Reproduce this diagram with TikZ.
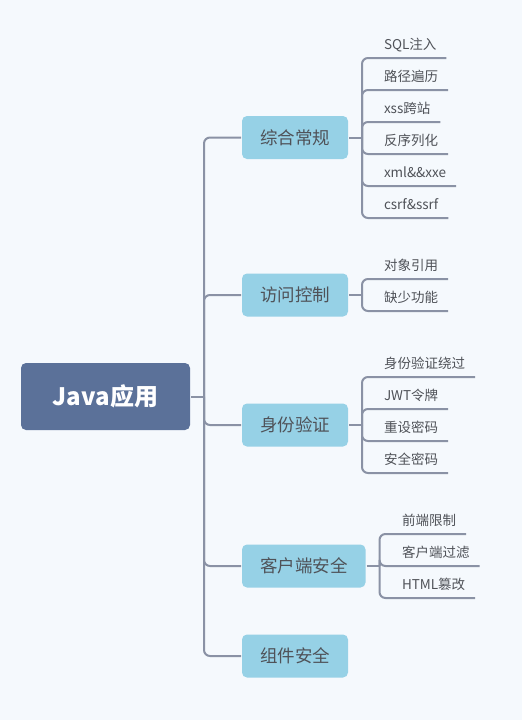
\documentclass[tikz,border=0pt]{standalone}
\usepackage{fontspec}
\setmainfont{Noto Sans CJK SC}
\usetikzlibrary{positioning}
\definecolor{bgpage}{HTML}{F5F9FD}
\definecolor{rootfill}{HTML}{5B7199}
\definecolor{topicfill}{HTML}{96D1E6}
\definecolor{linkgray}{HTML}{8A92A5}
\definecolor{textgray}{HTML}{4F5258}

\begin{document}
\begin{tikzpicture}[x=1pt, y=-1pt, line width=2pt,
  root/.style = {fill=rootfill, rounded corners=5pt, minimum width=169pt, minimum height=67pt, text=white, font=\fontsize{24}{28}\selectfont\bfseries},
  topic/.style = {fill=topicfill, rounded corners=5pt, inner xsep=18pt, minimum height=43pt, text=textgray, font=\fontsize{17.5}{20}\selectfont},
  leaf/.style = {inner xsep=9pt, inner ysep=5pt, text height=10pt, text depth=3pt, text=textgray, font=\fontsize{13.5}{16}\selectfont},
  link/.style = {draw=linkgray, rounded corners=6pt}]
\path[fill=bgpage] (0,0) rectangle (522,720);

% root and topics
\node[root] (java) at (105.5,396.5) {Java应用};
\node[topic, anchor=west] (g1) at (241,137.5) {综合常规};
\node[topic, anchor=west] (g2) at (241,295) {访问控制};
\node[topic, anchor=west] (g3) at (241,425) {身份验证};
\node[topic, anchor=west] (g4) at (241,566) {客户端安全};
\node[topic, anchor=west] (g5) at (241,656) {组件安全};
\coordinate[right=13pt of java.east] (trunk);
\draw[link] (java.east) -- (trunk);
\draw[link] (trunk) |- (g1.west);
\draw[link] (trunk) |- (g2.west);
\draw[link] (trunk) |- (g3.west);
\draw[link] (trunk) |- (g4.west);
\draw[link] (trunk) |- (g5.west);

% 综合常规
\coordinate[right=13pt of g1.east] (b1);
\node[leaf, anchor=south west] (sql) at (374,58) {SQL注入};
\node[leaf, below=32pt of sql.south west, anchor=south west] (path) {路径遍历};
\node[leaf, below=32pt of path.south west, anchor=south west] (xss) {xss跨站};
\node[leaf, below=32pt of xss.south west, anchor=south west] (deser) {反序列化};
\node[leaf, below=32pt of deser.south west, anchor=south west] (xxe) {xml\&\&xxe};
\node[leaf, below=32pt of xxe.south west, anchor=south west] (csrf) {csrf\&ssrf};
\draw[link] (g1.east) -- (b1);
\draw[link] (b1) |- (sql.south east);
\draw[link] (b1) |- (path.south east);
\draw[link] (b1) |- (xss.south east);
\draw[link] (b1) |- (deser.south east);
\draw[link] (b1) |- (xxe.south east);
\draw[link] (b1) |- (csrf.south east);

% 访问控制
\coordinate[right=13pt of g2.east] (b2);
\node[leaf, anchor=south west] (objref) at (374,279) {对象引用};
\node[leaf, below=32pt of objref.south west, anchor=south west] (missfn) {缺少功能};
\draw[link] (g2.east) -- (b2);
\draw[link] (b2) |- (objref.south east);
\draw[link] (b2) |- (missfn.south east);

% 身份验证
\coordinate[right=13pt of g3.east] (b3);
\node[leaf, anchor=south west] (bypass) at (374,377) {身份验证绕过};
\node[leaf, below=32pt of bypass.south west, anchor=south west] (jwt) {JWT令牌};
\node[leaf, below=32pt of jwt.south west, anchor=south west] (reset) {重设密码};
\node[leaf, below=32pt of reset.south west, anchor=south west] (safepw) {安全密码};
\draw[link] (g3.east) -- (b3);
\draw[link] (b3) |- (bypass.south east);
\draw[link] (b3) |- (jwt.south east);
\draw[link] (b3) |- (reset.south east);
\draw[link] (b3) |- (safepw.south east);

% 客户端安全
\coordinate[right=13pt of g4.east] (b4);
\node[leaf, anchor=south west] (front) at (392,534) {前端限制};
\node[leaf, below=32pt of front.south west, anchor=south west] (filter) {客户端过滤};
\node[leaf, below=32pt of filter.south west, anchor=south west] (html) {HTML篡改};
\draw[link] (g4.east) -- (b4);
\draw[link] (b4) |- (front.south east);
\draw[link] (b4) |- (filter.south east);
\draw[link] (b4) |- (html.south east);
\end{tikzpicture}
\end{document}
